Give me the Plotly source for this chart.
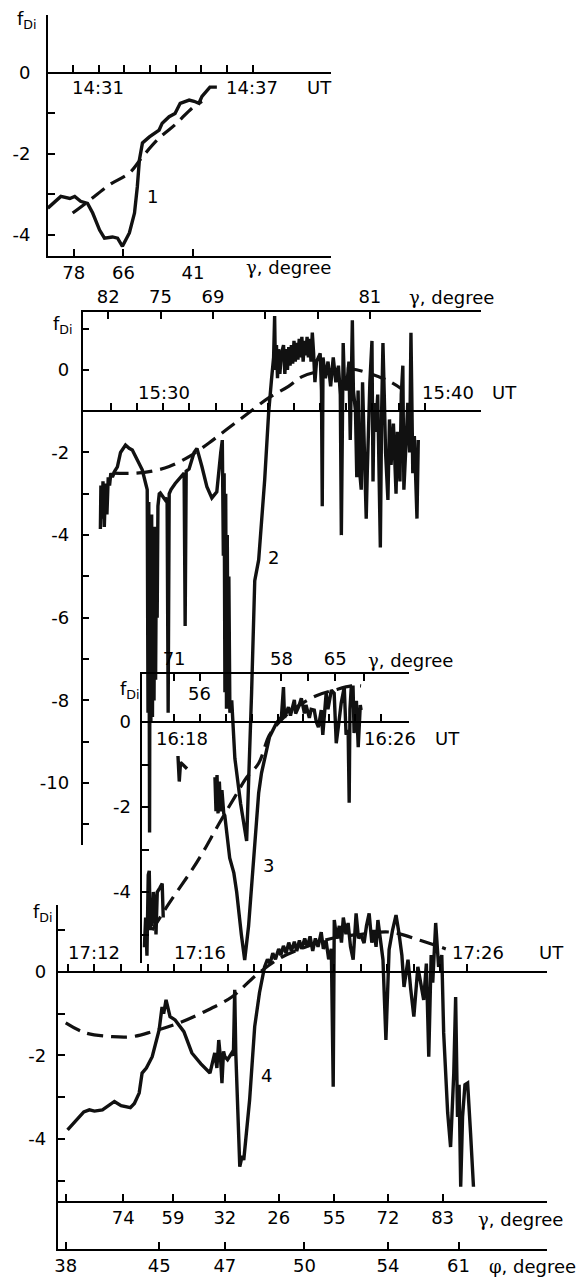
import plotly.graph_objects as go

W, H = 587, 1279
FONT = "DejaVu Sans"
FS = 18
INK = "#111111"

# ---------------- Panel 1 (minutes after 14:00 UT) ----------------
t1 = [29.02, 29.22, 29.53, 29.88, 30.07, 30.30, 30.57, 30.77, 31.04, 31.23, 31.54, 31.74, 31.93,
      32.20, 32.40, 32.51, 32.59, 32.71, 32.98, 33.36, 33.48, 33.75, 33.98, 34.18, 34.53, 34.72,
      34.91, 35.03, 35.22, 35.34, 35.61]
f1 = [-3.34, -3.22, -3.05, -3.10, -3.05, -3.17, -3.22, -3.46, -3.88, -4.08, -4.05, -4.08, -4.28,
      -3.95, -3.46, -2.81, -2.15, -1.73, -1.58, -1.41, -1.24, -1.08, -1.00, -0.75, -0.67, -0.70,
      -0.75, -0.58, -0.42, -0.35, -0.35]
t1_fit = [29.99, 30.50, 31.43, 32.20, 32.71, 33.36, 33.98, 34.64, 35.03]
f1_fit = [-3.46, -3.22, -2.76, -2.47, -2.07, -1.61, -1.28, -0.87, -0.70]
ut1_ticks = [30, 31, 32, 33, 34, 35, 36, 37]
g1_pos = [30.03, 31.97, 34.68]
g1_lab = ["78", "66", "41"]

# ---------------- Panel 2 (minutes after 15:00 UT) ----------------
t2 = [27.60, 27.62, 27.66, 27.70, 27.75, 27.80, 27.85, 27.90, 27.95, 28.00, 28.06, 28.15, 28.25, 28.37,
      28.56, 28.70, 28.82, 29.01, 29.20, 29.35,
      29.39, 29.42, 29.45, 29.48, 29.50, 29.53, 29.56, 29.59, 29.62, 29.65, 29.68, 29.71, 29.74, 29.77,
      29.80, 29.85,
      29.89, 30.08, 30.15, 30.19, 30.23, 30.30, 30.46, 30.80, 30.84, 30.88, 30.99, 31.18, 31.29, 31.48,
      31.67, 31.86, 32.05, 32.20, 32.26,
      32.30, 32.33, 32.36, 32.39, 32.42, 32.45, 32.48, 32.51, 32.55, 32.62,
      32.74, 32.96, 33.19, 33.27, 33.38, 33.50, 33.65, 33.88, 34.03, 34.14, 34.22, 34.26, 34.29, 34.33,
      34.37, 34.41, 34.46, 34.52,
      34.60, 34.65, 34.70, 34.75, 34.80, 34.85, 34.90, 34.95, 35.00, 35.05, 35.10, 35.15, 35.20, 35.25,
      35.30, 35.35, 35.40, 35.45, 35.50, 35.55, 35.60, 35.65, 35.70, 35.75, 35.80, 35.86,
      36.00, 36.05, 36.08, 36.11, 36.20, 36.30, 36.40, 36.50, 36.60, 36.70,
      36.77, 36.81, 36.85, 36.88, 36.92, 37.00, 37.10, 37.15, 37.19, 37.23,
      37.27, 37.35, 37.40, 37.45, 37.50, 37.57, 37.62, 37.70, 37.76, 37.80,
      37.90, 37.98, 38.02, 38.06, 38.12, 38.20, 38.25, 38.30, 38.35, 38.40,
      38.45, 38.50, 38.59, 38.65, 38.71, 38.80, 38.90, 38.95, 39.05, 39.10,
      39.16, 39.20, 39.28, 39.35, 39.42, 39.47, 39.50, 39.54, 39.60, 39.66,
      39.70, 39.75]
f2 = [-3.85, -2.8, -3.6, -2.7, -3.8, -2.75, -3.5, -2.6, -2.8, -2.5, -2.6, -2.45, -2.35, -2.0,
      -1.82, -1.9, -1.94, -2.18, -2.42, -2.8,
      -2.9, -8.3, -3.2, -11.2, -4.0, -8.5, -3.5, -8.4, -4.5, -8.0, -3.8, -7.5, -4.4, -6.0,
      -3.3, -3.0,
      -2.98, -3.15, -3.1, -8.3, -3.0, -2.9, -2.75, -2.5, -6.2, -2.45, -2.4, -2.0, -1.9, -2.34,
      -2.83, -3.1, -2.95, -2.0, -1.7,
      -4.5, -2.5, -7.8, -3.0, -8.2, -4.0, -8.0, -5.0, -8.3, -8.0,
      -9.4, -10.5, -11.4, -10.0, -7.8, -5.1, -4.6, -2.66, -1.04, -0.24, 0.3, 1.3, 0.0, 0.6,
      -0.2, 0.5, -0.1, 0.4,
      0.6, -0.1, 0.5, 0.0, 0.55, 0.1, 0.6, 0.15, 0.7, 0.2, 0.65, 0.25, 0.75, 0.3,
      0.8, 0.2, 0.7, 0.35, 0.8, 0.3, 0.75, 0.2, 0.9, 0.4, -0.3, 0.2,
      0.4, -0.5, -3.3, 0.3, -0.2, 0.2, -0.4, 0.3, -0.3, 0.1,
      -0.6, -4.0, -0.5, 0.65, -0.2, -0.5, 0.2, -1.7, -0.3, 1.2,
      -0.5, -1.0, -2.6, -0.5, -2.4, -2.9, -0.3, -2.6, -3.6, -2.5,
      -0.3, 0.7, -2.7, -0.8, -1.5, -0.6, -2.8, -4.3, -1.0, 0.65,
      -0.6, -2.0, -3.15, -1.2, -2.3, -1.3, -3.0, -1.5, -2.7, -0.6,
      0.1, -2.9, -1.8, -0.8, -2.0, 0.9, -0.5, -2.5, -1.6, -3.0,
      -3.6, -1.7]
t2_fit = [28.06, 28.94, 29.58, 30.23, 30.99, 31.75, 32.51, 33.27, 34.03, 34.79, 35.29, 35.86,
          36.43, 37.19, 37.95, 38.71, 39.09]
f2_fit = [-2.5, -2.5, -2.45, -2.34, -2.1, -1.77, -1.4, -1.04, -0.68, -0.4, -0.17, -0.05,
          0.0, 0.02, -0.1, -0.3, -0.45]
ut2_ticks = list(range(28, 41))
g2_pos = [27.9, 29.9, 31.9, 33.9, 35.9, 37.9]
g2_lab = ["82", "75", "69", "", "", "81"]

# ---------------- Panel 3 (minutes after 16:00 UT) ----------------
t3 = [16.85, 16.90, 16.95, 17.00, 17.04, 17.08, 17.12, 17.15, 17.20, 17.27, 17.30, 17.35, 17.45,
      17.54, 17.58, None, 18.15, 18.20, 18.25, 18.50, None,
      19.58, 19.62, 19.66, 19.70, 19.75, 19.80, 19.85, 19.92, 19.96,
      20.15, 20.31, 20.42, 20.60, 20.73, 20.88, 21.08, 21.27, 21.38, 21.50, 21.69, 21.96,
      22.15, 22.23, 22.27, 22.42, 22.50, 22.65, 22.70, 22.81, 22.92,
      23.04, 23.10, 23.23, 23.30, 23.42, 23.50, 23.58, 23.69, 23.75, 23.88, 23.95,
      24.08, 24.19, 24.27, 24.35, 24.46, 24.58, 24.65, 24.73, 24.77, 24.80, 24.85, 24.92, 24.96,
      25.05, 25.12, 25.20, 25.23]
f3 = [-5.3, -4.6, -5.5, -3.6, -3.5, -4.9, -4.2, -4.8, -4.0, -4.35, -5.0, -4.0, -3.9,
      -3.8, -4.6, None, -0.8, -1.4, -0.95, -1.1, None,
      -1.3, -2.1, -1.25, -2.15, -1.4, -2.1, -1.6, -2.15, -2.2,
      -3.2, -3.55, -4.0, -5.0, -5.6, -4.8, -3.25, -1.67, -1.2, -0.9, -0.35, -0.02,
      0.12, 0.82, 0.1, 0.35, 0.15, 0.52, 0.2, 0.35, 0.56,
      0.2, 0.4, 0.1, 0.3, 0.28, 0.0, -0.12, 0.28, -0.3, 0.68, 0.3,
      0.75, 0.68, -0.5, -0.12, 0.44, 0.82, -0.3, -0.19, -1.9, 0.3, 0.82, 0.82, -0.26,
      0.5, -0.59, 0.4, 0.28]
t3_fit = [17.15, 17.81, 18.69, 19.08, 19.73, 20.35, 20.81, 21.27, 21.69, 22.15, 22.73, 23.50,
          24.19, 24.85, 25.23]
f3_fit = [-4.9, -4.26, -3.48, -3.1, -2.4, -1.76, -1.3, -0.97, -0.3, 0.05, 0.35, 0.62,
          0.75, 0.85, 0.85]
ut3_ticks = list(range(18, 27))
g3_pos = [18.0, 19.0, 22.15, 23.19, 24.23, 25.35]
g3_lab = ["71", "", "58", "", "65", ""]

# ---------------- Panel 4 (minutes after 17:00 UT) ----------------
t4 = [10.99, 11.30, 11.60, 11.81, 12.00, 12.30, 12.50, 12.75, 13.00, 13.35,
      13.50, 13.68, 13.79, 13.95, 14.17, 14.30, 14.43, 14.54, 14.60, 14.69,
      14.84, 15.03, 15.20, 15.36, 15.66, 16.00, 16.34, 16.52, 16.60, 16.67,
      16.74, 16.79, 16.85, 16.90, 17.00, 17.16, 17.22, 17.27, 17.31, 17.46,
      17.55, 17.61, 17.83, 18.02, 18.20, 18.39, 18.50, 18.60, 18.70, 18.80,
      18.92, 19.00, 19.10, 19.20, 19.30, 19.40, 19.51, 19.60, 19.70, 19.78,
      19.90, 20.00, 20.10, 20.20, 20.30, 20.40, 20.52, 20.60, 20.70, 20.80,
      20.90, 20.97, 21.01, 21.10, 21.20, 21.28, 21.35, 21.45, 21.53, 21.62,
      21.72, 21.83, 21.92, 22.00, 22.13, 22.22, 22.32, 22.42, 22.50, 22.58,
      22.65, 22.75, 22.84, 22.95, 23.07, 23.20, 23.33, 23.44, 23.55, 23.63,
      23.78, 23.88, 24.00, 24.15, 24.25, 24.37, 24.47, 24.56, 24.65, 24.71,
      24.82, 24.93, 25.05, 25.12, 25.27, 25.38, 25.50, 25.57, 25.64, 25.70,
      25.76, 25.83, 25.92, 26.02, 26.13, 26.24]
f4 = [-3.78, -3.55, -3.35, -3.30, -3.33, -3.30, -3.22, -3.10, -3.20, -3.25,
      -3.15, -2.90, -2.42, -2.30, -2.03, -1.70, -1.39, -0.84, -1.00, -0.67,
      -1.07, -1.15, -1.30, -1.43, -1.94, -2.20, -2.42, -1.94, -2.30, -1.63,
      -2.10, -2.66, -1.90, -2.03, -2.10, -1.94, -2.00, -0.43, -1.94, -4.66,
      -4.40, -4.50, -3.06, -1.31, -0.50, 0.12, 0.30, 0.20, 0.45, 0.30,
      0.55, 0.40, 0.62, 0.45, 0.70, 0.50, 0.72, 0.50, 0.75, 0.55,
      0.80, 0.60, 0.85, 0.50, 0.80, 0.60, 0.95, 0.55, 0.75, 0.30,
      0.55, -2.75, 1.24, 0.80, 1.10, 0.70, 1.30, 0.90, 1.17, 0.60,
      0.29, 1.40, 0.80, 0.90, 0.69, 1.10, 1.40, 0.70, 1.00, 0.60,
      1.24, 0.80, 0.29, -1.63, 0.53, 1.00, 1.36, 0.93, 0.40, -0.36,
      0.29, -0.40, -1.07, 0.12, -0.30, -0.67, 0.20, -2.03, 0.40, -0.26,
      1.17, 0.12, 0.40, -1.46, -3.37, -4.19, -2.42, -0.60, -3.47, -2.70,
      -5.14, -3.47, -2.70, -2.66, -3.85, -5.14]
t4_fit = [10.92, 11.66, 12.67, 13.42, 14.17, 15.18, 16.04, 17.16, 18.09, 19.03, 19.96, 20.90,
          22.02, 23.14, 24.26, 25.20]
f4_fit = [-1.22, -1.46, -1.55, -1.55, -1.43, -1.22, -0.98, -0.6, -0.07, 0.35, 0.6, 0.8,
          0.9, 0.95, 0.75, 0.55]
ut4_ticks = list(range(11, 27))
g4_pos = [10.92, 13.08, 14.95, 16.90, 18.92, 21.01, 23.03, 25.08]
g4_lab = ["", "74", "59", "32", "26", "55", "72", "83"]
p4_pos = [10.92, 14.43, 16.90, 19.89, 23.03, 25.68]
p4_lab = ["38", "45", "47", "50", "54", "61"]

# ---------------- layout helpers ----------------
def xdom(l, r):
    return [l / W, r / W]

def ydom(top, bot):
    return [1 - bot / H, 1 - top / H]

def level_pos(level, rng, dom):
    return dom[0] + (level - rng[0]) / (rng[1] - rng[0]) * (dom[1] - dom[0])

tickfont = dict(family=FONT, size=FS, color="black")
base = dict(showline=True, linecolor="black", linewidth=1.6, showgrid=False, zeroline=False,
            ticks="inside", ticklen=7, tickwidth=1.5, tickcolor="black", tickfont=tickfont,
            fixedrange=True)
xbase = dict(base)

R1x, D1x, R1y, D1y = [29.02, 40.07], xdom(45, 330), [-4.52, 1.43], ydom(15, 256)
R2x, D2x, R2y, D2y = [26.92, 42.13], xdom(80, 480), [-11.5, 1.40], ydom(312, 845)
R3x, D3x, R3y, D3y = [16.77, 27.08], xdom(140, 408), [-5.67, 1.13], ydom(674, 963)
R4x, D4x, R4y, D4y = [10.62, 29.01], xdom(55, 547), [-6.63, 1.60], ydom(905, 1249)

fig = go.Figure()

def solid(x, y, xa, ya):
    fig.add_trace(go.Scatter(x=x, y=y, xaxis=xa, yaxis=ya, mode="lines", connectgaps=False,
                             line=dict(color=INK, width=3.4), hoverinfo="skip", showlegend=False))

def dashed(x, y, xa, ya):
    fig.add_trace(go.Scatter(x=x, y=y, xaxis=xa, yaxis=ya, mode="lines", line_shape="spline",
                             line=dict(color=INK, width=3.2, dash="16px,8px"),
                             hoverinfo="skip", showlegend=False))

def carrier(x, y, xa, ya):
    # invisible copy so that the overlaid (free) axis gets a subplot and is drawn
    fig.add_trace(go.Scatter(x=x, y=y, xaxis=xa, yaxis=ya, mode="lines", opacity=0,
                             line=dict(width=0), hoverinfo="skip", showlegend=False))

solid(t1, f1, "x", "y"); dashed(t1_fit, f1_fit, "x", "y")
solid(t2, f2, "x3", "y2"); dashed(t2_fit, f2_fit, "x3", "y2")
solid(t3, f3, "x5", "y3"); dashed(t3_fit, f3_fit, "x5", "y3")
solid(t4, f4, "x7", "y4"); dashed(t4_fit, f4_fit, "x7", "y4")
carrier(t1_fit, f1_fit, "x2", "y")
carrier(t2_fit, f2_fit, "x4", "y2")
carrier(t3_fit, f3_fit, "x6", "y3")
carrier(t4_fit, f4_fit, "x8", "y4")
carrier(t4_fit, f4_fit, "x9", "y4")

def yax(rng, dom, anchor, vals, labs, standoff):
    return dict(base, range=rng, domain=dom, anchor=anchor, tickvals=vals, ticktext=labs,
                ticklabelstandoff=standoff)

def ylabels(vals, shown):
    return [str(v) if v in shown else "" for v in vals]

y1v = [-4, -3, -2, -1, 0]
y2v = list(range(-11, 2))
y3v = [-5, -4, -3, -2, -1, 0]
y4v = [-5, -4, -3, -2, -1, 0, 1]

fig.update_layout(
    width=W, height=H, margin=dict(l=0, r=0, t=0, b=0),
    paper_bgcolor="white", plot_bgcolor="rgba(0,0,0,0)",
    font=dict(family=FONT, size=FS, color="black"),
    # panel 1
    xaxis=dict(xbase, range=R1x, domain=D1x, anchor="y", side="bottom",
               tickvals=g1_pos, ticktext=g1_lab),
    xaxis2=dict(xbase, range=R1x, overlaying="x", anchor="free",
                position=level_pos(0, R1y, D1y), side="bottom", tickvals=ut1_ticks,
                showticklabels=False),
    yaxis=yax(R1y, D1y, "x", y1v, ylabels(y1v, [0, -2, -4]), 12),
    # panel 2
    xaxis3=dict(xbase, range=R2x, domain=D2x, anchor="y2", side="top",
                tickvals=g2_pos, ticktext=g2_lab),
    xaxis4=dict(xbase, range=R2x, overlaying="x3", anchor="free",
                position=level_pos(-1, R2y, D2y), side="bottom", tickvals=ut2_ticks,
                showticklabels=False),
    yaxis2=yax(R2y, D2y, "x3", y2v, ylabels(y2v, [0, -2, -4, -6, -8, -10]), 8),
    # panel 3
    xaxis5=dict(xbase, range=R3x, domain=D3x, anchor="y3", side="top",
                tickvals=g3_pos, ticktext=g3_lab),
    xaxis6=dict(xbase, range=R3x, overlaying="x5", anchor="free",
                position=level_pos(0, R3y, D3y), side="bottom", tickvals=ut3_ticks,
                showticklabels=False),
    yaxis3=yax(R3y, D3y, "x5", y3v, ylabels(y3v, [0, -2, -4]), 6),
    # panel 4
    xaxis7=dict(xbase, range=R4x, domain=D4x, anchor="y4", side="bottom",
                tickvals=p4_pos, ticktext=p4_lab),
    xaxis8=dict(xbase, range=R4x, overlaying="x7", anchor="free",
                position=level_pos(0, R4y, D4y), side="bottom", tickvals=ut4_ticks,
                showticklabels=False),
    xaxis9=dict(xbase, range=R4x, overlaying="x7", anchor="free",
                position=level_pos(-5.5, R4y, D4y), side="bottom", tickvals=g4_pos,
                ticktext=g4_lab),
    yaxis4=yax(R4y, D4y, "x7", y4v, ylabels(y4v, [0, -2, -4]), 6),
)

GAMMA = "<span style='font-family:DejaVu Serif'>γ</span>, degree"
PHI = "<span style='font-family:DejaVu Serif'>φ</span>, degree"
# text labels (pixel positions of the reference page)
texts = [
    ("f<sub>Di</sub>", 24, 20), ("14:31", 95, 88), ("14:37", 250, 88), ("UT", 318, 88),
    (GAMMA, 287, 267), ("1", 150, 197),
    ("f<sub>Di</sub>", 60, 325), ("15:30", 162, 392), ("15:40", 447, 392), ("UT", 504, 392),
    (GAMMA, 451, 297), ("2", 272, 557),
    ("f<sub>Di</sub>", 128, 690), ("16:18", 180, 738), ("16:26", 389, 738), ("UT", 447, 738),
    (GAMMA, 410, 660), ("56", 198, 693), ("3", 267, 865),
    ("f<sub>Di</sub>", 40, 913), ("17:12", 91, 953), ("17:16", 198, 953), ("17:26", 477, 953),
    ("UT", 551, 953), (GAMMA, 520, 1219), (PHI, 532, 1266), ("4", 265, 1075),
]
for txt, x, y in texts:
    fig.add_annotation(text=txt, x=x / W, y=1 - y / H, xref="paper", yref="paper",
                       xanchor="center", yanchor="middle", showarrow=False,
                       font=dict(family=FONT, size=FS, color="black"))

# the page is shown in a 587x1279 window: remove the default 8px body margin
fig.write_html("out.html", config={"displayModeBar": False},
               post_script="document.body.style.margin='0';document.body.style.overflow='hidden';")
